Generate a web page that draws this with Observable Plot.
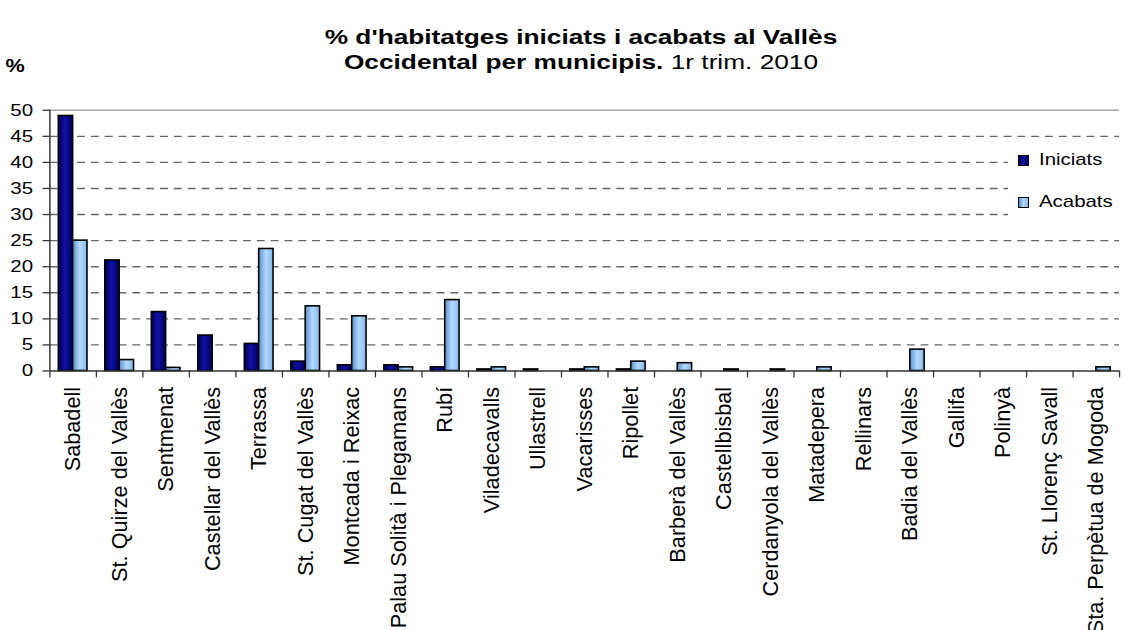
<!DOCTYPE html>
<html>
<head>
<meta charset="utf-8">
<script src="https://cdn.jsdelivr.net/npm/d3@7"></script>
<script src="https://cdn.jsdelivr.net/npm/@observablehq/plot@0.6"></script>
<style>
  html, body { margin: 0; padding: 0; background: #fff; overflow: hidden; }
  #wrap { position: relative; width: 1126px; height: 630px; overflow: hidden; font-family: "Liberation Sans", Arial, sans-serif; color: #000; }
  #header { position: relative; height: 90px; }
  #title { position: absolute; left: 581px; top: 24px; transform: translateX(-50%) scaleX(1.25); transform-origin: center; white-space: nowrap; text-align: center; font-weight: bold; font-size: 21px; line-height: 25px; }
  #title .reg { font-weight: normal; }
  #ylab { position: absolute; left: 15px; top: 66px; transform: translate(-50%, -50%) scaleX(1.2); font-weight: bold; font-size: 18px; }
  #chart { position: absolute; left: 0; top: 90px; }
  #legbox { position: absolute; left: 1008px; top: 142px; width: 130px; height: 80px; background: #fff; }
  .leg { position: absolute; left: 1018px; display: flex; align-items: center; font-size: 17px; }
  .leg .sw { width: 9px; height: 9px; border: 1.5px solid #000; }
  .leg .tx { margin-left: 10px; transform: scaleX(1.2); transform-origin: left center; }
</style>
</head>
<body>
<div id="wrap">
  <div id="header">
    <div id="title">% d'habitatges iniciats i acabats al Vallès<br>Occidental per municipis.<span class="reg"> 1r trim. 2010</span></div>
    <div id="ylab">%</div>
  </div>
  <div id="chart"></div>
  <div id="legbox"></div>
  <div class="leg" style="top:150px;"><div class="sw" style="background:linear-gradient(90deg,#00004d,#1010a8 45%,#00005a);"></div><div class="tx">Iniciats</div></div>
  <div class="leg" style="top:192px;"><div class="sw" style="background:linear-gradient(90deg,#5a8fc8,#b4d9ff 50%,#86b8ea);"></div><div class="tx">Acabats</div></div>
</div>
<script>
const municipis = [
  "Sabadell", "St. Quirze del Vallès", "Sentmenat", "Castellar del Vallès", "Terrassa",
  "St. Cugat del Vallès", "Montcada i Reixac", "Palau Solità i Plegamans", "Rubí", "Viladecavalls",
  "Ullastrell", "Vacarisses", "Ripollet", "Barberà del Vallès", "Castellbisbal",
  "Cerdanyola del Vallès", "Matadepera", "Rellinars", "Badia del Vallès", "Gallifa",
  "Polinyà", "St. Llorenç Savall", "Sta. Perpètua de Mogoda"
];
const iniciats = [48.9, 21.2, 11.3, 6.8, 5.2, 1.8, 1.1, 1.1, 0.7, 0.3, 0.3, 0.3, 0.3, 0, 0, 0, 0, 0, 0, 0, 0, 0, 0];
const acabats  = [25.0, 2.1, 0.6, 0, 23.4, 12.4, 10.5, 0.7, 13.6, 0.7, 0, 0.7, 1.8, 1.5, 0.3, 0.3, 0.7, 0, 4.1, 0, 0, 0, 0.7];
const series = ["Iniciats", "Acabats"];
const yTicks = d3.range(0, 51, 5);

const n = municipis.length;
const sub = d3.scaleBand(series, [0, 1]).paddingInner(0).paddingOuter(0.62);
const rows = (vals, s) => vals.map((v, i) => ({i, serie: s, value: v})).filter(d => d.value > 0);
const dIni = rows(iniciats, "Iniciats");
const dAca = rows(acabats, "Acabats");
const x1 = d => d.i + sub(d.serie);
const x2 = d => d.i + sub(d.serie) + sub.bandwidth();

const chart = Plot.plot({
  width: 1140,
  height: 540,
  marginTop: 20,
  marginBottom: 256,
  marginLeft: 50,
  marginRight: 7,
  x: {domain: [0, n]},
  y: {domain: [0, 50]},
  style: {fontFamily: "'Liberation Sans', Arial, sans-serif", fontSize: "17px", color: "#000", background: "transparent", overflow: "visible"},
  marks: [
    Plot.ruleY(yTicks.filter(v => v > 0 && v < 50), {stroke: "#666", strokeWidth: 1.4, strokeDasharray: "8,6"}),
    Plot.ruleY([50], {stroke: "#a8a8a8", strokeWidth: 1.5}),
    Plot.rect(dIni, {x1, x2, y1: () => 0, y2: "value", fill: "url(#gIni)", stroke: "#000", strokeWidth: 1.6}),
    Plot.rect(dAca, {x1, x2, y1: () => 0, y2: "value", fill: "url(#gAca)", stroke: "#000", strokeWidth: 1.6}),
    Plot.axisY({ticks: yTicks, tickSize: 7, tickPadding: 10, fontSize: 17, label: null, stroke: "#333", strokeWidth: 1.3}),
    Plot.ruleX([0], {stroke: "#333", strokeWidth: 1.5}),
    Plot.ruleY([0], {stroke: "#333", strokeWidth: 1.5}),
    Plot.axisX({ticks: d3.range(0, n + 1), tickSize: 7, tickFormat: () => "", label: null, stroke: "#333", strokeWidth: 1.3}),
    Plot.axisX({ticks: d3.range(n).map(i => i + 0.5), tickSize: 0, tickPadding: 16, tickRotate: -90,
      tickFormat: v => municipis[Math.floor(v)], fontSize: 22, label: null})
  ]
});

const ns = "http://www.w3.org/2000/svg";
const defs = document.createElementNS(ns, "defs");
defs.innerHTML = `
  <linearGradient id="gIni" x1="0" x2="1" y1="0" y2="0">
    <stop offset="0" stop-color="#00004d"/><stop offset="0.45" stop-color="#1010a8"/><stop offset="1" stop-color="#00005a"/>
  </linearGradient>
  <linearGradient id="gAca" x1="0" x2="1" y1="0" y2="0">
    <stop offset="0" stop-color="#5a8fc8"/><stop offset="0.5" stop-color="#b4d9ff"/><stop offset="1" stop-color="#86b8ea"/>
  </linearGradient>`;
chart.insertBefore(defs, chart.firstChild);
document.getElementById("chart").appendChild(chart);

// stretch the y tick labels horizontally, anchored at their right end
chart.querySelectorAll('g[aria-label="y-axis tick label"] text').forEach(t => {
  const b = t.getBBox();
  const ax = b.x + b.width;
  const tr = t.getAttribute("transform") || "";
  t.setAttribute("transform", `${tr} translate(${ax},0) scale(1.22,1) translate(${-ax},0)`);
});
</script>
</body>
</html>
